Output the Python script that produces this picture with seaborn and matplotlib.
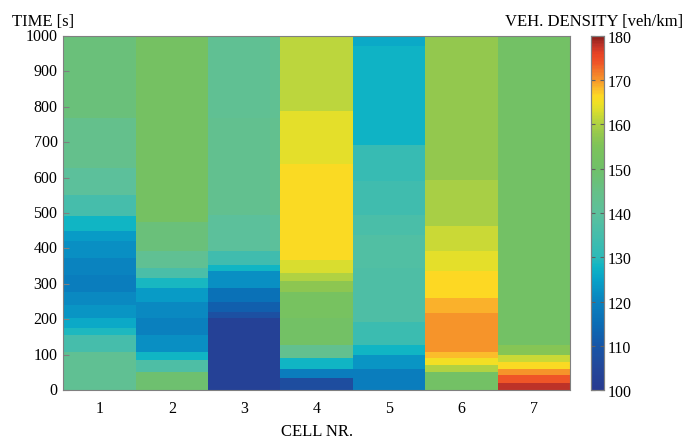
import numpy as np
import pandas as pd
import matplotlib
matplotlib.use("Agg")
import matplotlib.pyplot as plt
from matplotlib.colors import LinearSegmentedColormap
import seaborn as sns

# ---- data: piecewise density per cell (segment start times [s], densities [veh/km]) ----
cells = ["1", "2", "3", "4", "5", "6", "7"]
c1_t = [0, 108, 156, 175, 203, 240, 278, 325, 373, 420, 448, 491, 552, 627, 769]
c1_v = [142, 135, 129, 126, 123, 121, 119, 120, 122, 124, 128, 135, 140, 144, 147]
c2_t = [0, 52, 85, 108, 156, 203, 250, 288, 316, 344, 392, 476]
c2_v = [149, 137, 128, 122, 119.5, 121, 124, 128.5, 136, 142, 147, 152]
c3_t = [0, 203, 222, 250, 288, 335, 354, 392, 495, 769]
c3_v = [103, 108, 112, 116, 122, 128, 134, 140, 143, 142]
c4_t = [0, 33, 61, 90, 127, 203, 278, 307, 330, 368, 637, 788]
c4_v = [107, 119, 128, 143, 151, 153, 157, 160, 163, 166, 164, 161]
c5_t = [0, 61, 99, 127, 193, 344, 439, 495, 590, 693, 972]
c5_v = [119, 123, 128, 133, 137, 137.5, 136, 134, 132, 127.5, 126]
c6_t = [0, 52, 71, 90, 108, 217, 259, 335, 392, 462, 594]
c6_v = [151, 160, 165, 168, 170, 168.5, 166.5, 164, 162, 159.5, 157.5]
c7_t = [0, 19, 42, 61, 80, 99, 127]
c7_v = [178, 174, 170, 166, 162, 156, 151]
y_ticks = [0, 100, 200, 300, 400, 500, 600, 700, 800, 900, 1000]
cb_ticks = [100, 110, 120, 130, 140, 150, 160, 170, 180]

segs = [(c1_t, c1_v), (c2_t, c2_v), (c3_t, c3_v), (c4_t, c4_v),
        (c5_t, c5_v), (c6_t, c6_v), (c7_t, c7_v)]
T = 1000
times = np.arange(T) + 0.5
grid = {}
for name, (ts, vs) in zip(cells, segs):
    idx = np.searchsorted(np.array(ts), times, side="right") - 1
    grid[name] = np.array(vs, dtype=float)[idx]
df = pd.DataFrame(grid, index=np.arange(T))

# ---- colormap (parula-like into yellow/orange/red) ----
anch = [(100, "#283a90"), (105, "#23479a"), (110, "#1656a8"), (115, "#0a6db5"),
        (120, "#0a82bf"), (125, "#08a2c8"), (128, "#10b6c4"), (130, "#2dbab8"),
        (135, "#45bdab"), (140, "#5cc09c"), (145, "#66c087"), (150, "#70c068"),
        (155, "#7cc35a"), (158, "#95c84d"), (161, "#b9d53e"), (163, "#d8dd2f"),
        (165, "#f0e024"), (166.5, "#fdd823"), (168, "#fbbf2b"), (170, "#f7982a"),
        (172, "#f37a29"), (174, "#ef5527"), (176, "#e94425"), (178, "#c03329"),
        (180, "#8a1f19")]
cmap = LinearSegmentedColormap.from_list(
    "dens", [((v - 100) / 80, c) for v, c in anch], N=256)

plt.rcParams["font.family"] = ["Liberation Serif", "DejaVu Serif"]
fig = plt.figure(figsize=(6.93, 4.39), dpi=100)
ax = fig.add_axes([0.091, 0.109, 0.732, 0.807])
cax = fig.add_axes([0.853, 0.109, 0.018, 0.807])

sns.heatmap(df, ax=ax, cbar_ax=cax, cmap=cmap, vmin=100, vmax=180,
            linewidths=0, rasterized=True,
            cbar_kws={"ticks": cb_ticks})
ax.set_ylim(0, T)
ax.set_yticks(y_ticks)
ax.set_yticklabels([str(v) for v in y_ticks], rotation=0, fontsize=11.5)
ax.set_xticks(np.arange(len(cells)) + 0.5)
ax.set_xticklabels(cells, fontsize=11.5)
ax.tick_params(axis="y", direction="in", length=4, color="#808080", pad=4)
ax.tick_params(axis="x", direction="in", length=0, pad=7)
for s in ax.spines.values():
    s.set_visible(True)
    s.set_color("#808080")
    s.set_linewidth(0.8)
ax.set_ylabel("")
ax.set_xlabel("CELL NR.", fontsize=12, labelpad=5)

cax.tick_params(direction="in", length=3, color="#606060", labelsize=11.5, pad=3)
cax.yaxis.set_ticks_position("both")
cax.tick_params(labelleft=False, labelright=True)
for s in cax.spines.values():
    s.set_visible(True)
    s.set_color("#808080")
    s.set_linewidth(0.8)

fig.text(0.017, 0.94, "TIME [s]", fontsize=12, ha="left", va="baseline")
fig.text(0.986, 0.94, "VEH. DENSITY [veh/km]", fontsize=12, ha="right", va="baseline")

fig.savefig("out.png", dpi=100)
